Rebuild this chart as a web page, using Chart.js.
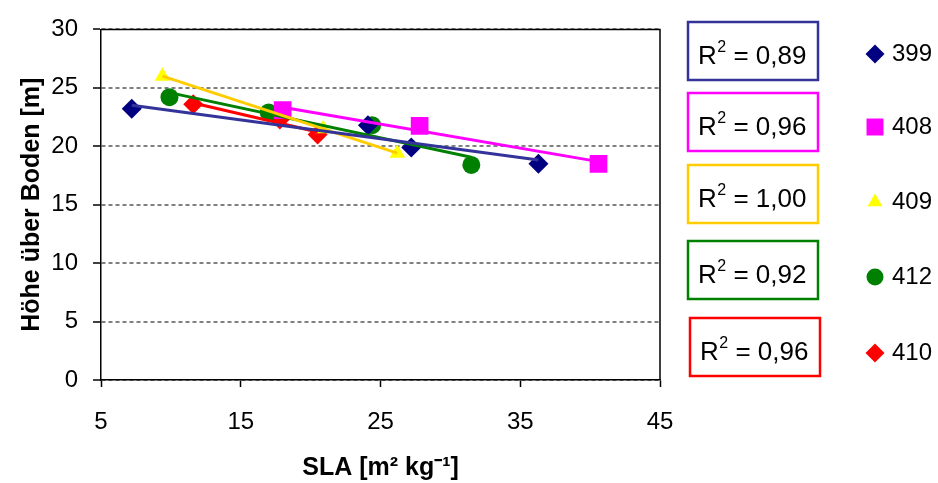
<!DOCTYPE html>
<html>
<head>
<meta charset="utf-8">
<script src="https://cdn.jsdelivr.net/npm/chart.js@4/dist/chart.umd.min.js"></script>
<style>
  body { margin: 0; background: #fff; }
  canvas { display: block; }
</style>
</head>
<body>
<canvas id="slaChart" width="938" height="483"></canvas>
<script>
// Werte (SLA, Höhe)
const seriesNames = ['399', '408', '409', '412', '410'];
const sla399 = [7.2, 24.1, 27.2, 36.3];
const hoehe399 = [23.2, 21.8, 19.9, 18.5];
const sla408 = [18.0, 27.8, 40.6];
const hoehe408 = [23.1, 21.75, 18.5];
const sla409 = [9.4, 20.9, 26.2];
const hoehe409 = [26.0, 21.5, 19.4];
const sla412 = [9.9, 17.0, 24.4, 31.5];
const hoehe412 = [24.2, 22.9, 21.8, 18.4];
const sla410 = [11.6, 17.8, 20.5];
const hoehe410 = [23.6, 22.3, 21.0];
const rSquared = ['0,89', '0,96', '1,00', '0,92', '0,96'];
const xTicks = [5, 15, 25, 35, 45];
const yTicks = [0, 5, 10, 15, 20, 25, 30];

const FONT = '"Liberation Sans", Arial, sans-serif';

const markerColors = ['#000080', '#FF00FF', '#FFFF00', '#008000', '#FF0000'];
const lineColors = ['#333399', '#FF00FF', '#FFCC00', '#008000', '#FF0000'];
const pointStyles = ['rectRot', 'rect', 'triangle', 'circle', 'rectRot'];
const pointSizes = [10, 12.5, 9, 9, 10];

const allX = [sla399, sla408, sla409, sla412, sla410];
const allY = [hoehe399, hoehe408, hoehe409, hoehe412, hoehe410];

// lineare Trendlinie (kleinste Quadrate) über den Bereich der Serie
function trendLine(xs, ys) {
    const n = xs.length;
    const mx = xs.reduce((a, b) => a + b, 0) / n;
    const my = ys.reduce((a, b) => a + b, 0) / n;
    let sxy = 0, sxx = 0;
    for (let i = 0; i < n; i++) {
        sxy += (xs[i] - mx) * (ys[i] - my);
        sxx += (xs[i] - mx) * (xs[i] - mx);
    }
    const slope = sxy / sxx;
    const x0 = Math.min(...xs), x1 = Math.max(...xs);
    return [
        { x: x0, y: my + slope * (x0 - mx) },
        { x: x1, y: my + slope * (x1 - mx) }
    ];
}

const datasets = [];
seriesNames.forEach((name, i) => {
    datasets.push({
        label: 'Trend ' + name,
        data: trendLine(allX[i], allY[i]),
        showLine: true,
        borderColor: lineColors[i],
        borderWidth: 3,
        pointRadius: 0,
        order: 0
    });
});
seriesNames.forEach((name, i) => {
    datasets.push({
        label: name,
        data: allX[i].map((x, k) => ({ x: x, y: allY[i][k] })),
        showLine: false,
        pointStyle: pointStyles[i],
        pointRadius: pointSizes[i],
        pointBackgroundColor: markerColors[i],
        pointBorderColor: markerColors[i],
        pointBorderWidth: 0,
        order: 1
    });
});

// R²-Kästen und Legende rechts neben dem Diagramm
const sidePanel = {
    id: 'sidePanel',
    afterDraw(chart) {
        const ctx = chart.ctx;
        const area = chart.chartArea;

        // Rahmen oben/rechts
        ctx.save();
        ctx.strokeStyle = '#000';
        ctx.lineWidth = 1.5;
        ctx.beginPath();
        ctx.moveTo(area.left, area.top);
        ctx.lineTo(area.right, area.top);
        ctx.lineTo(area.right, area.bottom);
        ctx.stroke();
        ctx.restore();

        const boxTops = [22, 93, 165, 241, 318];
        const boxLefts = [688, 688, 688, 688, 690];
        const legendY = [54, 127, 202, 277, 353];

        seriesNames.forEach((name, i) => {
            const bx = boxLefts[i], by = boxTops[i];
            ctx.save();
            ctx.fillStyle = '#fff';
            ctx.fillRect(bx, by, 130, 58);
            ctx.strokeStyle = lineColors[i];
            ctx.lineWidth = 2.5;
            ctx.strokeRect(bx, by, 130, 58);

            // R² = ...
            ctx.fillStyle = '#000';
            ctx.textBaseline = 'alphabetic';
            ctx.textAlign = 'left';
            const base = by + 42;
            let tx = bx + 10;
            ctx.font = '26px ' + FONT;
            ctx.fillText('R', tx, base);
            tx += ctx.measureText('R').width + 0.5;
            ctx.font = '16px ' + FONT;
            ctx.fillText('2', tx, base - 12);
            tx += ctx.measureText('2').width;
            ctx.font = '26px ' + FONT;
            ctx.fillText(' = ' + rSquared[i], tx, base);

            // Legendeneintrag
            const ly = legendY[i];
            ctx.fillStyle = markerColors[i];
            ctx.strokeStyle = markerColors[i];
            Chart.helpers.drawPoint(ctx, {
                pointStyle: pointStyles[i],
                radius: pointSizes[i] - 0.5,
                rotation: 0,
                borderWidth: 0
            }, 875, ly);
            ctx.fillStyle = '#000';
            ctx.font = '24px ' + FONT;
            ctx.textBaseline = 'middle';
            ctx.fillText(name, 892, ly);
            ctx.restore();
        });
    }
};

new Chart(document.getElementById('slaChart'), {
    type: 'scatter',
    data: { datasets: datasets },
    plugins: [sidePanel],
    options: {
        responsive: false,
        animation: false,
        layout: { padding: { left: 0, right: 278, top: 20, bottom: 0 } },
        plugins: {
            legend: { display: false },
            tooltip: { enabled: false }
        },
        scales: {
            x: {
                type: 'linear',
                min: 5,
                max: 45,
                afterBuildTicks: (scale) => { scale.ticks = xTicks.map(v => ({ value: v })); },
                afterFit: (scale) => { scale.height = 103; },
                ticks: { color: '#000', font: { family: FONT, size: 24 }, padding: 21, maxRotation: 0 },
                grid: {
                    drawOnChartArea: false,
                    drawTicks: true,
                    tickLength: 7,
                    tickColor: '#000',
                    tickWidth: 1.5
                },
                border: { color: '#000', width: 1.5 },
                title: {
                    display: true,
                    text: 'SLA [m² kg⁻¹]',
                    color: '#000',
                    font: { family: FONT, size: 25, weight: 'bold' },
                    padding: { top: 0, bottom: 0 }
                }
            },
            y: {
                type: 'linear',
                min: 0,
                max: 30,
                afterBuildTicks: (scale) => { scale.ticks = yTicks.map(v => ({ value: v })); },
                afterFit: (scale) => { scale.width = 101; },
                ticks: { color: '#000', font: { family: FONT, size: 24 }, padding: 15 },
                grid: {
                    color: '#808080',
                    lineWidth: 2,
                    drawTicks: true,
                    tickLength: 8,
                    tickColor: '#000',
                    tickWidth: 1.5,
                    tickBorderDash: []
                },
                border: { color: '#000', width: 1.5, dash: [4, 3] },
                title: {
                    display: true,
                    text: 'Höhe über Boden [m]',
                    color: '#000',
                    font: { family: FONT, size: 25, weight: 'bold' },
                    padding: { top: 17, bottom: 0 }
                }
            }
        }
    }
});
</script>
</body>
</html>
